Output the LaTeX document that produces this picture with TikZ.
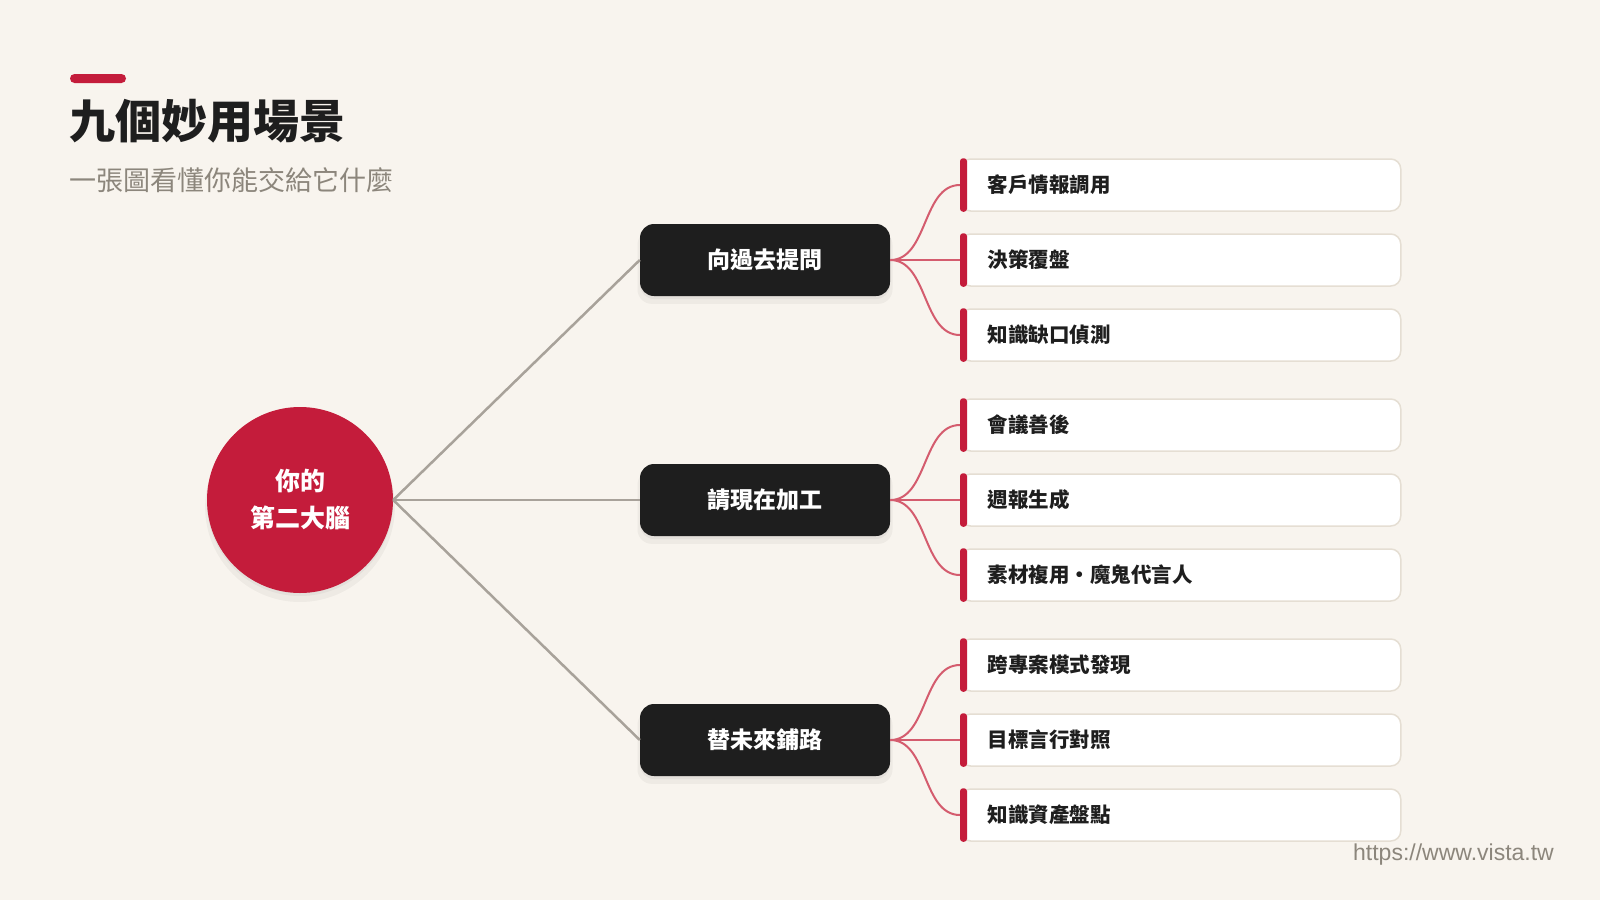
\documentclass[tikz,border=0pt]{standalone}
\usepackage{fontspec}
\setmainfont{Noto Sans CJK TC}
\newfontfamily\urlfont{Liberation Sans}
\usetikzlibrary{shadows}
\definecolor{bgcream}{HTML}{F8F4EE}
\definecolor{brainred}{HTML}{C41C3B}
\definecolor{inkdark}{HTML}{1E1E1E}
\definecolor{trunkgray}{HTML}{A8A29A}
\definecolor{twigred}{HTML}{D45C6E}
\definecolor{leafline}{HTML}{E5DED3}
\definecolor{softgray}{HTML}{8C867C}

\begin{document}
\begin{tikzpicture}[x=1pt, y=-1pt,
    soft shadow/.style={
        drop shadow={shadow xshift=0pt, shadow yshift=-3pt, opacity=0.04, fill=black},
        drop shadow={shadow xshift=0pt, shadow yshift=-7pt, shadow scale=1.02, opacity=0.04, fill=black}},
    hub/.style={circle, fill=brainred, minimum size=186pt, text=white, align=center,
        font=\fontsize{25}{37}\selectfont\bfseries, soft shadow},
    topic/.style={rectangle, rounded corners=14pt, fill=inkdark, minimum width=250pt,
        minimum height=72pt, text=white, font=\fontsize{23}{28}\selectfont\bfseries, soft shadow},
    idea/.style={rectangle, rounded corners=10pt, draw=leafline, line width=1.5pt, fill=white,
        anchor=west, text width=386pt, inner xsep=27pt, minimum height=52pt,
        text=inkdark, font=\fontsize{20.5}{24}\selectfont\bfseries},
    trunk/.style={draw=trunkgray, line width=2.5pt},
    twig/.style={draw=twigred, line width=2pt}]
    \fill[bgcream] (0,0) rectangle (1600,900);
    \useasboundingbox (0,0) rectangle (1600,900);

    % Title block
    \fill[brainred, rounded corners=4.5pt] (70,74) rectangle (126,83);
    \node[anchor=west, inner sep=0pt, text=inkdark, font=\fontsize{46}{50}\selectfont\bfseries] (title) at (69,121) {九個妙用場景};
    \node[anchor=west, inner sep=0pt, text=softgray, font=\fontsize{27}{30}\selectfont] (subtitle) at (69,180) {一張圖看懂你能交給它什麼};

    % Center and the three topics
    \node[hub] (brain) at (300,500) {你的\\第二大腦};
    \foreach \name/\y/\txt in {past/260/向過去提問, now/500/請現在加工, future/740/替未來鋪路} {
        \node[topic] (\name) at (765,\y) {\txt};
        \draw[trunk] (brain.east) -- (\name.west);
    }

    % Nine scenes
    \foreach \name/\y/\txt in {l1/185/客戶情報調用, l2/260/決策覆盤, l3/335/知識缺口偵測,
        l4/425/會議善後, l5/500/週報生成, l6/575/素材複用・魔鬼代言人,
        l7/665/跨專案模式發現, l8/740/目標言行對照, l9/815/知識資產盤點} {
        \node[idea] (\name) at (960,\y) {\txt};
    }
    \foreach \topic/\leaf in {past/l1, past/l2, past/l3, now/l4, now/l5, now/l6, future/l7, future/l8, future/l9} {
        \draw[twig] (\topic.east) .. controls +(38,0) and +(-38,0) .. (\leaf.west);
        \fill[brainred, rounded corners=3pt] (\leaf.north west) rectangle ([xshift=7pt]\leaf.south west);
    }

    \node[anchor=east, inner sep=0pt, text=softgray, font=\urlfont\fontsize{23}{26}\selectfont] (site) at (1554,855) {https://www.vista.tw};
\end{tikzpicture}
\end{document}
